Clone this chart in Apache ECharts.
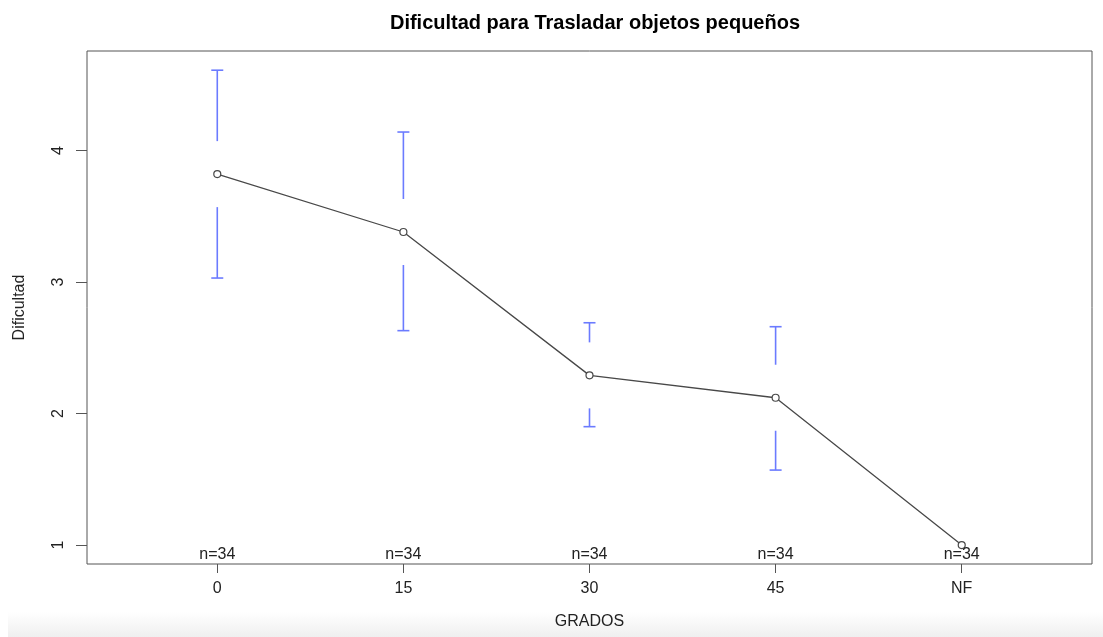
<!DOCTYPE html>
<html>
<head>
<meta charset="utf-8">
<script src="https://cdn.jsdelivr.net/npm/echarts@6/dist/echarts.min.js"></script>
<style>html,body{margin:0;padding:0;background:#fff}#c{width:1103px;height:637px}</style>
</head>
<body>
<div id="c"></div>
<script>
const categories = ['0', '15', '30', '45', 'NF'];
const means = [3.82, 3.38, 2.29, 2.12, 1.00];
const upper = [4.61, 4.14, 2.69, 2.66, 1.00];
const lower = [3.03, 2.63, 1.90, 1.57, 1.00];
const nCounts = [34, 34, 34, 34, 34];
const yTicks = [1, 2, 3, 4];

const FONT = 'Liberation Sans, Arial, sans-serif';
const Y_MIN = 0.856, Y_MAX = 4.756;
const X_MIN = -0.7, X_MAX = 4.7;
const GAP = 33;
const CAP = 6;
const BAR_COLOR = '#6b7bff';

const chart = echarts.init(document.getElementById('c'), null, {renderer: 'canvas'});

const lineData = means.map((m, i) => [i, m]);
const errData = means.map((m, i) => [i, m, upper[i], lower[i]]);
const nData = nCounts.map((n, i) => [i, Y_MIN, n]);

chart.setOption({
  animation: false,
  backgroundColor: '#fff',
  title: {
    text: 'Dificultad para Trasladar objetos pequeños',
    left: 590, top: 8, textAlign: 'center',
    textStyle: {fontFamily: FONT, fontSize: 20, fontWeight: 'bold', color: '#000'}
  },
  graphic: [{
    type: 'rect', left: 8, top: 612, z: -10,
    shape: {width: 1095, height: 25},
    style: {fill: new echarts.graphic.LinearGradient(0, 0, 0, 1, [
      {offset: 0, color: '#ffffff'}, {offset: 1, color: '#efefef'}])}
  }],
  grid: {
    left: 87, right: 11, top: 51, bottom: 73,
    show: true, borderColor: '#555', borderWidth: 1, backgroundColor: 'transparent'
  },
  xAxis: {
    type: 'value', min: X_MIN, max: X_MAX,
    name: 'GRADOS', nameLocation: 'middle', nameGap: 50,
    nameTextStyle: {fontFamily: FONT, fontSize: 16, color: '#222'},
    axisLine: {show: false, onZero: false},
    splitLine: {show: false},
    axisTick: {show: true, length: 9, customValues: [0, 1, 2, 3, 4], lineStyle: {color: '#555'}},
    axisLabel: {
      customValues: [0, 1, 2, 3, 4], margin: 17,
      fontFamily: FONT, fontSize: 16, color: '#222',
      formatter: v => categories[Math.round(v)]
    }
  },
  yAxis: {
    type: 'value', min: Y_MIN, max: Y_MAX,
    name: 'Dificultad', nameLocation: 'middle', nameGap: 59, nameRotate: 90,
    nameTextStyle: {fontFamily: FONT, fontSize: 16, color: '#222'},
    axisLine: {show: false, onZero: false},
    splitLine: {show: false},
    axisTick: {show: true, length: 11, customValues: yTicks, lineStyle: {color: '#555'}},
    axisLabel: {
      customValues: yTicks, margin: 20, rotate: 90,
      fontFamily: FONT, fontSize: 16, color: '#222'
    }
  },
  series: [
    {
      type: 'custom',
      data: errData,
      z: 2,
      renderItem: function (params, api) {
        const x = api.value(0);
        const pm = api.coord([x, api.value(1)]);
        const pu = api.coord([x, api.value(2)]);
        const pl = api.coord([x, api.value(3)]);
        const children = [];
        const st = {stroke: BAR_COLOR, lineWidth: 1.6};
        if (pm[1] - GAP > pu[1]) {
          children.push({type: 'line', shape: {x1: pm[0], y1: pu[1], x2: pm[0], y2: pm[1] - GAP}, style: st});
          children.push({type: 'line', shape: {x1: pm[0] - CAP, y1: pu[1], x2: pm[0] + CAP, y2: pu[1]}, style: st});
        }
        if (pm[1] + GAP < pl[1]) {
          children.push({type: 'line', shape: {x1: pm[0], y1: pm[1] + GAP, x2: pm[0], y2: pl[1]}, style: st});
          children.push({type: 'line', shape: {x1: pm[0] - CAP, y1: pl[1], x2: pm[0] + CAP, y2: pl[1]}, style: st});
        }
        return {type: 'group', children: children};
      }
    },
    {
      type: 'line',
      data: lineData,
      z: 3,
      symbol: 'circle', symbolSize: 7,
      lineStyle: {color: '#484848', width: 1.3},
      itemStyle: {color: '#fff', borderColor: '#484848', borderWidth: 1.2}
    },
    {
      type: 'custom',
      data: nData,
      z: 4,
      renderItem: function (params, api) {
        const p = api.coord([api.value(0), api.value(1)]);
        return {
          type: 'text',
          x: p[0], y: p[1] - 1,
          style: {text: 'n=' + api.value(2), textAlign: 'center', textVerticalAlign: 'bottom',
                  font: '16px ' + FONT, fill: '#222'}
        };
      }
    }
  ]
});
</script>
</body>
</html>
